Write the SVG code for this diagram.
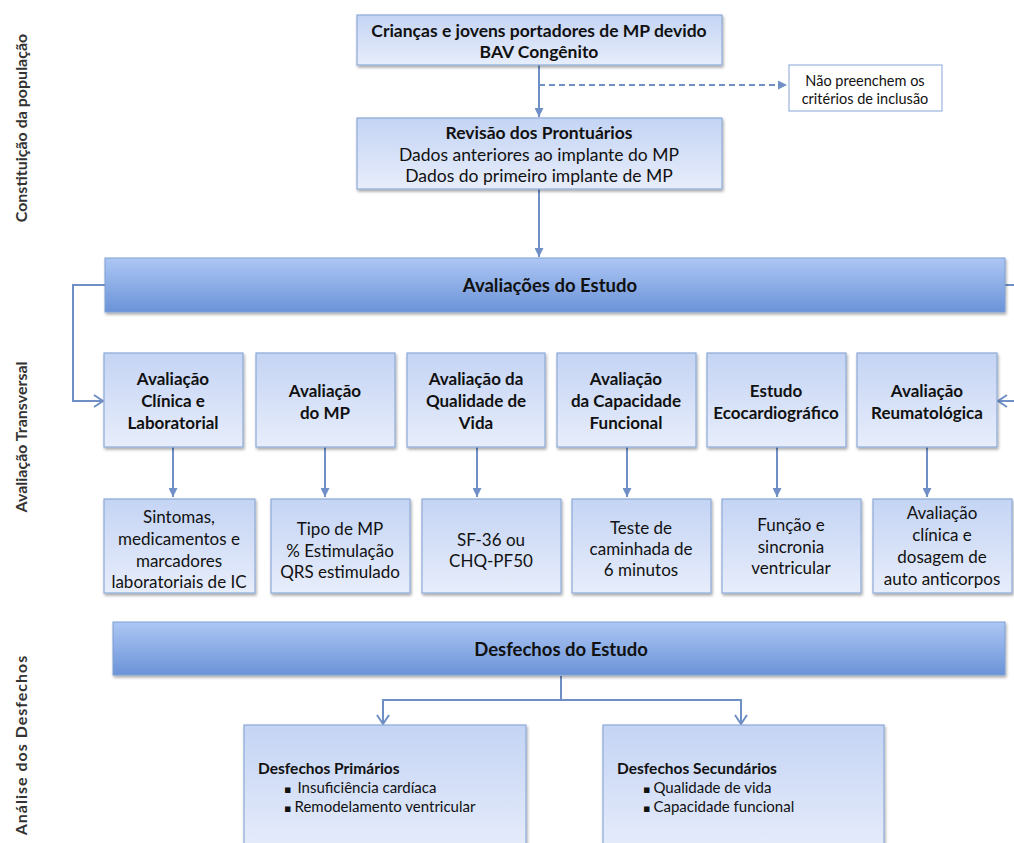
<svg xmlns="http://www.w3.org/2000/svg" width="1014" height="843" viewBox="0 0 1014 843">
<style>
.box{fill:url(#gBox);stroke:#8eaad8;stroke-width:1.2;filter:url(#sh)}
.wbox{fill:#ffffff;stroke:#9cb3de;stroke-width:1.2}
.bar{fill:url(#gBar);stroke:#7f9fd4;stroke-width:1;filter:url(#sh)}
.conn{stroke:#6f8fc6;stroke-width:2;fill:none}
.dash{stroke-dasharray:6,4}
text{font-family:Lato,"Liberation Sans",sans-serif;fill:#111;text-anchor:middle}
.b{font-weight:bold;font-size:17px}
.t{font-weight:bold;font-size:17.5px}
.tr{font-size:17.5px}
.bt{font-weight:bold;font-size:18.5px}
.r{font-size:17px}
.s{font-size:14.5px}
.sb{font-size:15.5px;font-weight:bold;text-anchor:start}
.sl{font-size:15px;text-anchor:start}
.side{font-size:16px;font-weight:bold;fill:#333}
.bul{font-family:"DejaVu Sans",sans-serif;font-size:11px}
</style>
<defs>
<linearGradient id="gBox" x1="0" y1="0" x2="0" y2="1">
<stop offset="0" stop-color="#c4d4f4"/>
<stop offset="1" stop-color="#e7edfb"/>
</linearGradient>
<linearGradient id="gBar" x1="0" y1="0" x2="0" y2="1">
<stop offset="0" stop-color="#adc7f4"/>
<stop offset="1" stop-color="#6b93d8"/>
</linearGradient>
<filter id="sh" x="-5%" y="-10%" width="110%" height="130%">
<feGaussianBlur in="SourceAlpha" stdDeviation="1.5"/>
<feOffset dx="1" dy="2" result="o"/>
<feComponentTransfer><feFuncA type="linear" slope="0.35"/></feComponentTransfer>
<feMerge><feMergeNode/><feMergeNode in="SourceGraphic"/></feMerge>
</filter>
<marker id="tri" viewBox="0 0 10 10" refX="10" refY="5" markerWidth="9" markerHeight="9" markerUnits="userSpaceOnUse" orient="auto">
<path d="M0,0 L10,5 L0,10 z" fill="#6f8fc6"/>
</marker>
<marker id="chev" viewBox="0 0 12 14" refX="11" refY="7" markerWidth="12" markerHeight="14" markerUnits="userSpaceOnUse" orient="auto">
<path d="M2,1 L11,7 L2,13" fill="none" stroke="#6f8fc6" stroke-width="2"/>
</marker>
</defs>
<rect width="1014" height="843" fill="#ffffff"/>

<g id="side-labels">
<text class="side" transform="translate(27,128) rotate(-90)">Constituição da população</text>
<text class="side" transform="translate(27,437) rotate(-90)">Avaliação Transversal</text>
<text class="side" transform="translate(27,745) rotate(-90)" letter-spacing="1">Análise dos Desfechos</text>
</g>

<g id="connectors">
<path class="conn" d="M539,65 V117" marker-end="url(#tri)"/>
<path class="conn dash" d="M539,85 H787" marker-end="url(#tri)"/>
<path class="conn" d="M539,189 V257" marker-end="url(#tri)"/>
<path class="conn" d="M105,285 H73 V401 H103" marker-end="url(#chev)"/>
<path class="conn" d="M1005,285 H1016"/>
<path class="conn" d="M1016,401 H998" marker-end="url(#chev)"/>
<path class="conn" d="M173,447 V497" marker-end="url(#tri)"/>
<path class="conn" d="M325,447 V497" marker-end="url(#tri)"/>
<path class="conn" d="M477,447 V497" marker-end="url(#tri)"/>
<path class="conn" d="M627,447 V497" marker-end="url(#tri)"/>
<path class="conn" d="M777,447 V497" marker-end="url(#tri)"/>
<path class="conn" d="M927,447 V497" marker-end="url(#tri)"/>
<path class="conn" d="M561,676 V700 M383,700 H741"/>
<path class="conn" d="M383,699 V724" marker-end="url(#chev)"/>
<path class="conn" d="M741,699 V724" marker-end="url(#chev)"/>
</g>

<g id="n-criancas">
<rect class="box" x="357" y="15" width="365" height="50"/>
<text class="t" x="539" y="37">Crianças e jovens portadores de MP devido</text>
<text class="t" x="539" y="58">BAV Congênito</text>
</g>
<g id="n-nao">
<rect class="wbox" x="789" y="65" width="153" height="46"/>
<text class="s" x="865" y="86">Não preenchem os</text>
<text class="s" x="865" y="104">critérios de inclusão</text>
</g>
<g id="n-revisao">
<rect class="box" x="357" y="118" width="365" height="71"/>
<text class="t" x="539" y="139">Revisão dos Prontuários</text>
<text class="tr" x="539" y="161">Dados anteriores ao implante do MP</text>
<text class="tr" x="539" y="182">Dados do primeiro implante de MP</text>
</g>
<g id="n-avaliacoes">
<rect class="bar" x="105" y="258" width="900" height="54"/>
<text class="bt" x="550" y="292">Avaliações do Estudo</text>
</g>

<g id="n-a1">
<rect class="box" x="104" y="353" width="139" height="94"/>
<text class="b" x="173" y="385">Avaliação</text>
<text class="b" x="173" y="407">Clínica e</text>
<text class="b" x="173" y="429">Laboratorial</text>
</g>
<g id="n-a2">
<rect class="box" x="256" y="353" width="139" height="94"/>
<text class="b" x="325" y="397">Avaliação</text>
<text class="b" x="325" y="419">do MP</text>
</g>
<g id="n-a3">
<rect class="box" x="407" y="353" width="138" height="94"/>
<text class="b" x="476" y="385">Avaliação da</text>
<text class="b" x="476" y="407">Qualidade de</text>
<text class="b" x="476" y="429">Vida</text>
</g>
<g id="n-a4">
<rect class="box" x="557" y="353" width="139" height="94"/>
<text class="b" x="626" y="385">Avaliação</text>
<text class="b" x="626" y="407">da Capacidade</text>
<text class="b" x="626" y="429">Funcional</text>
</g>
<g id="n-a5">
<rect class="box" x="707" y="353" width="139" height="94"/>
<text class="b" x="776" y="397">Estudo</text>
<text class="b" x="776" y="419">Ecocardiográfico</text>
</g>
<g id="n-a6">
<rect class="box" x="857" y="353" width="140" height="94"/>
<text class="b" x="927" y="397">Avaliação</text>
<text class="b" x="927" y="419">Reumatológica</text>
</g>

<g id="n-b1">
<rect class="box" x="104" y="499" width="151" height="94"/>
<text class="r" x="179" y="523">Sintomas,</text>
<text class="r" x="179" y="545">medicamentos e</text>
<text class="r" x="179" y="567">marcadores</text>
<text class="r" x="179" y="588">laboratoriais de IC</text>
</g>
<g id="n-b2">
<rect class="box" x="271" y="499" width="139" height="94"/>
<text class="r" x="340" y="535">Tipo de MP</text>
<text class="r" x="340" y="557">% Estimulação</text>
<text class="r" x="340" y="578">QRS estimulado</text>
</g>
<g id="n-b3">
<rect class="box" x="422" y="499" width="139" height="94"/>
<text class="r" x="491" y="546">SF-36 ou</text>
<text class="r" x="491" y="567">CHQ-PF50</text>
</g>
<g id="n-b4">
<rect class="box" x="572" y="499" width="139" height="94"/>
<text class="r" x="641" y="534">Teste de</text>
<text class="r" x="641" y="555">caminhada de</text>
<text class="r" x="641" y="576">6 minutos</text>
</g>
<g id="n-b5">
<rect class="box" x="722" y="499" width="139" height="94"/>
<text class="r" x="791" y="531">Função e</text>
<text class="r" x="791" y="553">sincronia</text>
<text class="r" x="791" y="574">ventricular</text>
</g>
<g id="n-b6">
<rect class="box" x="873" y="499" width="139" height="94"/>
<text class="r" x="942" y="519">Avaliação</text>
<text class="r" x="942" y="541">clínica e</text>
<text class="r" x="942" y="563">dosagem de</text>
<text class="r" x="942" y="585">auto anticorpos</text>
</g>

<g id="n-desfechos">
<rect class="bar" x="113" y="622" width="892" height="53"/>
<text class="bt" x="561" y="656">Desfechos do Estudo</text>
</g>
<g id="n-primarios">
<rect class="box" x="244" y="725" width="282" height="130"/>
<text class="sb" x="258" y="774">Desfechos Primários</text>
<text class="sl" x="284" y="793"><tspan class="bul">▪</tspan><tspan dx="6">Insuficiência cardíaca</tspan></text>
<text class="sl" x="284" y="812"><tspan class="bul">▪</tspan><tspan dx="3">Remodelamento ventricular</tspan></text>
</g>
<g id="n-secundarios">
<rect class="box" x="603" y="725" width="281" height="130"/>
<text class="sb" x="617" y="774">Desfechos Secundários</text>
<text class="sl" x="643" y="793"><tspan class="bul">▪</tspan><tspan dx="3">Qualidade de vida</tspan></text>
<text class="sl" x="643" y="812"><tspan class="bul">▪</tspan><tspan dx="3">Capacidade funcional</tspan></text>
</g>
</svg>
